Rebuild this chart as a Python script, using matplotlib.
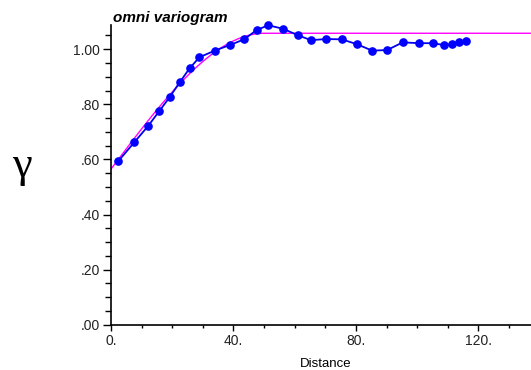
import matplotlib
matplotlib.use("Agg")
import matplotlib.pyplot as plt
from matplotlib.ticker import MultipleLocator, FixedLocator
import numpy as np

lag = [2.4, 7.6, 12.1, 15.8, 19.3, 22.5, 25.7, 28.9, 33.9, 39.0, 43.5, 47.6,
       51.4, 56.3, 61.0, 65.3, 70.3, 75.4, 80.4, 85.3, 90.2, 95.3, 100.5,
       105.1, 108.9, 111.5, 113.7, 115.9]
gamma = [0.594, 0.662, 0.721, 0.776, 0.828, 0.881, 0.931, 0.971, 0.995, 1.016,
         1.036, 1.070, 1.087, 1.074, 1.051, 1.033, 1.037, 1.036, 1.018, 0.995,
         0.997, 1.025, 1.022, 1.022, 1.015, 1.018, 1.028, 1.030]

# fitted spherical model
nugget = 0.565
sill = 1.058
vrange = 50.0

x_ticks = [0, 40, 80, 120]
x_labels = ["0.", "40.", "80.", "120."]
y_ticks = [0.0, 0.2, 0.4, 0.6, 0.8, 1.0]
y_labels = [".00", ".20", ".40", ".60", ".80", "1.00"]

plt.rcParams['font.family'] = ['Liberation Sans', 'DejaVu Sans']

fig = plt.figure(figsize=(5.31, 3.70), dpi=100)
ax = fig.add_axes([111 / 531, 1 - 324.7 / 370, 420 / 531, (324.7 - 25) / 370])

h = np.linspace(0, 140, 400)
hr = np.clip(h / vrange, 0, 1)
model = nugget + (sill - nugget) * (1.5 * hr - 0.5 * hr ** 3)
ax.plot(h, model, color='#ff00ff', lw=1.0, zorder=2)
ax.plot(lag, gamma, color='#0000ee', lw=1.3, marker='o', markersize=5.2,
        markerfacecolor='#0000ff', markeredgecolor='#0000ff', zorder=3,
        clip_on=False)

ax.set_xlim(0, 137.2)
ax.set_ylim(0, 1.088)
ax.spines['top'].set_visible(False)
ax.spines['right'].set_visible(False)
ax.spines['left'].set_linewidth(1.2)
ax.spines['bottom'].set_linewidth(1.2)

ax.xaxis.set_major_locator(FixedLocator(x_ticks))
ax.set_xticklabels(x_labels)
ax.xaxis.set_minor_locator(MultipleLocator(10))
ax.yaxis.set_major_locator(FixedLocator(y_ticks))
ax.set_yticklabels(y_labels)
ax.yaxis.set_minor_locator(MultipleLocator(0.05))
ax.tick_params(axis='both', which='major', width=1, labelsize=10,
               labelcolor='#222222', pad=2)
ax.tick_params(axis='y', which='major', length=6)
ax.tick_params(axis='y', which='minor', length=4, width=1)
ax.tick_params(axis='x', which='major', length=4, pad=3)
ax.tick_params(axis='x', which='minor', length=2, width=1)

fig.text(326 / 531, 1 - 364 / 370, "Distance", fontsize=9.5,
         ha='center', va='center')
fig.text(113 / 531, 1 - 18 / 370, "omni variogram", fontsize=11,
         fontweight='bold', fontstyle='italic', ha='left', va='center')
fig.text(22 / 531, 1 - 166 / 370, "\u03b3", fontsize=32,
         family='Liberation Serif', ha='center', va='center')

fig.savefig("out.png", dpi=100)
